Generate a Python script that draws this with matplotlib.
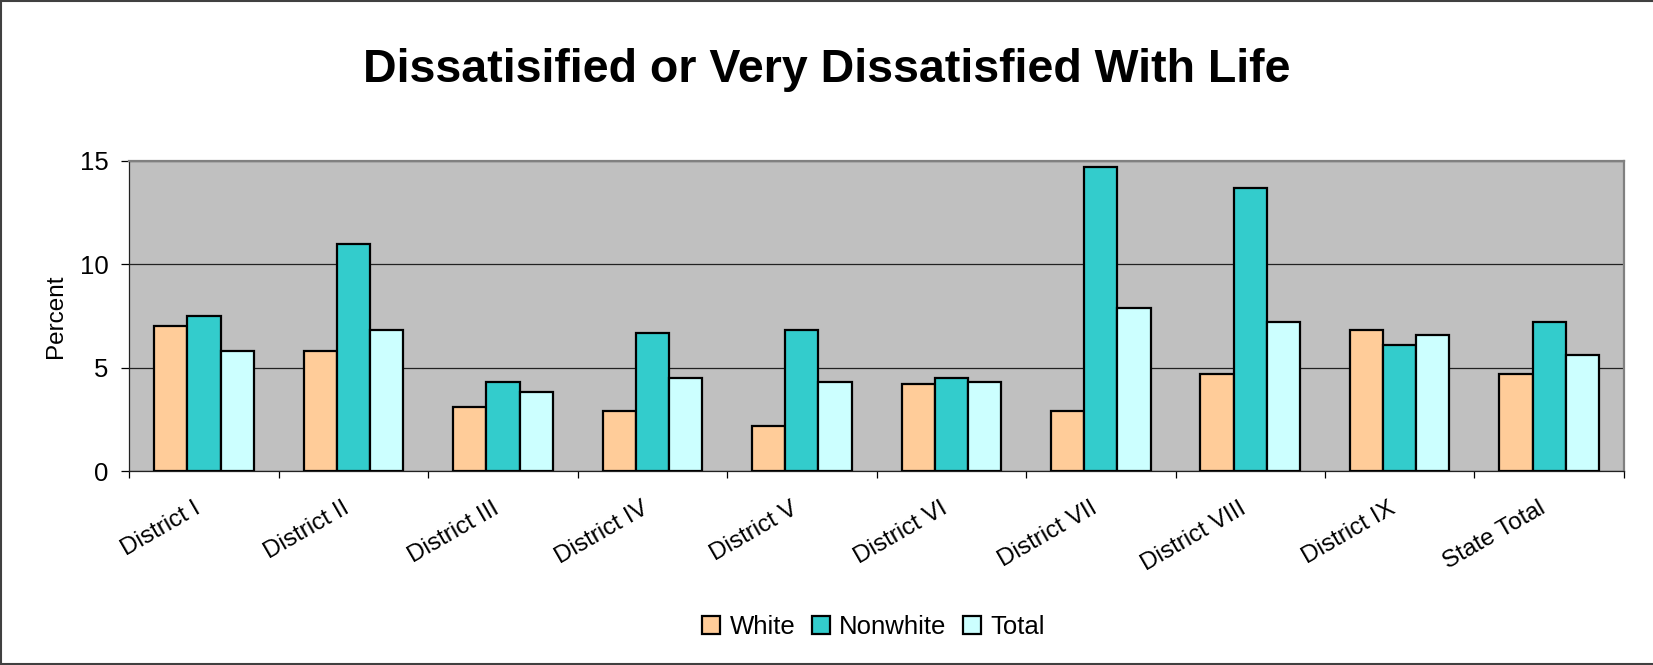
import numpy as np
import matplotlib
matplotlib.use("Agg")
import matplotlib.pyplot as plt
from matplotlib.lines import Line2D

plt.rcParams['font.family'] = ['Liberation Sans', 'DejaVu Sans']

districts = ["District I", "District II", "District III", "District IV", "District V",
             "District VI", "District VII", "District VIII", "District IX", "State Total"]
white = [7.0, 5.8, 3.1, 2.9, 2.2, 4.2, 2.9, 4.7, 6.8, 4.7]
nonwhite = [7.5, 11.0, 4.3, 6.7, 6.8, 4.5, 14.7, 13.7, 6.1, 7.2]
total = [5.8, 6.8, 3.8, 4.5, 4.3, 4.3, 7.9, 7.2, 6.6, 5.6]

series = [("White", white, "#FFCC99"),
          ("Nonwhite", nonwhite, "#33CCCC"),
          ("Total", total, "#CCFFFF")]

fig = plt.figure(figsize=(16.53, 6.65), dpi=100)
ax = fig.add_axes([0.0782, 0.2917, 0.9042, 0.4663])
ax.set_facecolor("#C0C0C0")

# centers of each district group
x = np.arange(len(districts)) + 0.5
w = 0.222
for k, (name, vals, col) in enumerate(series):
    ax.bar(x + (k - 1) * w, vals, width=w, color=col, edgecolor="black",
           linewidth=1.6, label=name, zorder=3)

ax.set_xlim(0, len(districts))
ax.set_ylim(0, 15)
ax.set_yticks([0, 5, 10, 15])
ax.yaxis.grid(True, color="#222222", linewidth=0.9, zorder=1)
ax.tick_params(axis="y", labelsize=18.5, length=6, width=0.9, direction="out", pad=9)

# ticks on the group boundaries, labels in the middle
ax.set_xticks(np.arange(len(districts) + 1))
ax.set_xticklabels([])
ax.tick_params(axis="x", which="major", length=5, width=0.9, direction="out")
ax.set_xticks(x, minor=True)
ax.set_xticklabels(districts, minor=True, rotation=30, ha="right", va="top", fontsize=17.5)
ax.tick_params(axis="x", which="minor", length=0, pad=19)

for s in ["left", "bottom"]:
    ax.spines[s].set_color("#222222")
    ax.spines[s].set_linewidth(0.9)
for s in ["top", "right"]:
    ax.spines[s].set_color("#808080")
    ax.spines[s].set_linewidth(1.6)

ax.set_ylabel("Percent", fontsize=17.5)
ax.yaxis.set_label_coords(-0.0418, 0.5)

fig.text(0.5, 0.8767, "Dissatisified or Very Dissatisfied With Life",
         ha="center", va="baseline", fontsize=33.5, fontweight="bold")

leg = fig.legend(loc="center", bbox_to_anchor=(0.5284, 0.0571), ncol=3, frameon=False,
                 fontsize=18.5, handlelength=0.7, handleheight=0.7, handletextpad=0.35,
                 columnspacing=0.65)

# chart border
for xs, ys in [([0, 1], [0.998, 0.998]), ([0.0007, 0.0007], [0, 1]), ([0, 1], [0.002, 0.002])]:
    fig.add_artist(Line2D(xs, ys, color="#404040", linewidth=1.5, transform=fig.transFigure))

fig.savefig("out.png", dpi=100)
